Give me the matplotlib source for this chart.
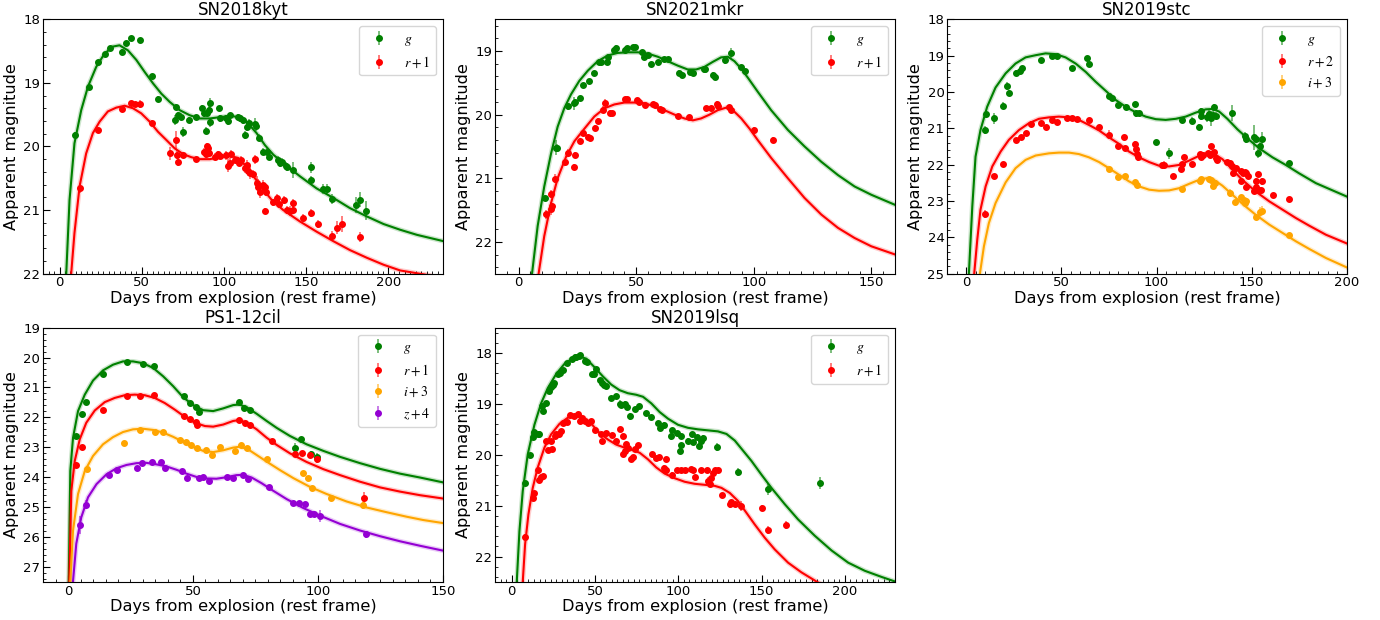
import matplotlib
matplotlib.use('Agg')
import matplotlib.pyplot as plt
from matplotlib.ticker import MultipleLocator
from matplotlib.colors import to_rgba

plt.rcParams['mathtext.fontset'] = 'stix'

# ---------------- SN2018kyt ----------------
kyt_g_t = [9.5, 17.7, 23.1, 27.6, 30.5, 37.8, 40.6, 43.5, 48.7, 56.2, 59.7, 70.7, 70.5, 72.1, 74.1, 74.9, 78.8, 82.9, 86.9, 87.7,
           89.0, 89.7, 90.6, 91.4, 91.4, 97.1, 97.5, 101.5, 102.2, 103.6, 108.6, 109.6, 111.7, 112.7, 113.7, 115.3, 118.8, 119.4, 121.4, 123.9,
           125.9, 127.2, 133.0, 134.0, 135.0, 137.7, 138.5, 141.7, 152.7, 152.7, 160.0, 162.8, 165.5, 180.3, 182.7, 186.4]
kyt_g_m = [19.82, 19.06, 18.67, 18.55, 18.46, 18.51, 18.37, 18.29, 18.33, 18.89, 19.25, 19.38, 19.58, 19.51, 19.53, 19.77, 19.58, 19.54, 19.40, 19.48,
           19.75, 19.48, 19.42, 19.32, 19.62, 19.40, 19.56, 19.56, 19.60, 19.51, 19.53, 19.56, 19.59, 19.82, 19.69, 19.63, 19.64, 19.68, 19.86, 20.08,
           20.08, 20.16, 20.21, 20.26, 20.24, 20.30, 20.32, 20.37, 20.33, 20.53, 20.67, 20.67, 20.83, 20.92, 20.84, 21.01]
kyt_g_e = [0.05, 0.04, 0.03, 0.03, 0.02, 0.04, 0.03, 0.02, 0.04, 0.03, 0.04, 0.05, 0.08, 0.05, 0.05, 0.08, 0.04, 0.03, 0.05, 0.05,
           0.06, 0.06, 0.05, 0.08, 0.07, 0.04, 0.05, 0.05, 0.06, 0.04, 0.04, 0.05, 0.06, 0.06, 0.06, 0.06, 0.08, 0.07, 0.05, 0.06,
           0.05, 0.05, 0.06, 0.06, 0.06, 0.06, 0.06, 0.12, 0.08, 0.06, 0.08, 0.08, 0.08, 0.12, 0.12, 0.15]
kyt_r_t = [12.2, 23.1, 37.8, 43.5, 45.7, 48.7, 56.0, 67.0, 70.7, 71.5, 72.3, 75.1, 83.2, 88.0, 89.0, 89.7, 90.4, 91.0, 94.4, 96.4,
           97.5, 101.5, 102.3, 103.6, 104.2, 106.6, 109.2, 110.1, 112.7, 113.7, 114.7, 116.1, 117.8, 118.8, 119.8, 120.8, 121.8, 123.9, 124.9, 125.5,
           125.1, 130.0, 132.4, 133.6, 136.4, 138.1, 140.1, 141.7, 142.1, 147.8, 152.7, 157.4, 165.5, 168.9, 172.0, 182.7]
kyt_r_m = [20.66, 19.74, 19.41, 19.32, 19.34, 19.33, 19.63, 20.11, 19.90, 20.13, 20.24, 20.13, 20.20, 20.08, 20.12, 20.00, 20.03, 20.10, 20.16, 20.12,
           20.15, 20.14, 20.30, 20.26, 20.12, 20.21, 20.26, 20.21, 20.34, 20.29, 20.39, 20.41, 20.43, 20.20, 20.57, 20.63, 20.71, 20.60, 20.63, 20.71,
           21.02, 20.88, 20.81, 20.90, 20.84, 21.00, 21.02, 21.00, 20.89, 21.13, 21.05, 21.22, 21.41, 21.28, 21.22, 21.42]
kyt_r_e = [0.08, 0.04, 0.03, 0.04, 0.04, 0.06, 0.04, 0.10, 0.15, 0.07, 0.06, 0.04, 0.04, 0.06, 0.06, 0.05, 0.05, 0.06, 0.05, 0.05,
           0.05, 0.07, 0.10, 0.08, 0.06, 0.05, 0.05, 0.06, 0.08, 0.08, 0.08, 0.10, 0.06, 0.07, 0.10, 0.12, 0.10, 0.07, 0.06, 0.07,
           0.05, 0.06, 0.06, 0.07, 0.06, 0.06, 0.08, 0.06, 0.06, 0.06, 0.06, 0.07, 0.08, 0.10, 0.12, 0.08]
kyt_gmod_t = [3.6, 4.1, 6.1, 9.1, 13.2, 17.3, 22.3, 27.4, 32.5, 36.5, 41.6, 46.7, 51.8, 56.9, 61.9, 67, 73.1, 79.2, 85.3, 91.4,
              97.5, 103.6, 109.6, 114.7, 119.8, 124.9, 130, 136, 146.2, 156.3, 166.5, 176.6, 186.8, 197, 207.1, 217.3, 233.5]
kyt_gmod_m = [22.6, 22.0, 20.84, 19.95, 19.43, 19.06, 18.75, 18.54, 18.43, 18.41, 18.49, 18.64, 18.83, 19.01, 19.17, 19.30, 19.43, 19.51, 19.56, 19.56,
              19.54, 19.52, 19.54, 19.64, 19.79, 19.98, 20.13, 20.26, 20.47, 20.66, 20.81, 20.97, 21.10, 21.22, 21.31, 21.39, 21.49]
kyt_rmod_t = [6.5, 7.1, 9.1, 12.2, 16.2, 20.3, 24.4, 29.4, 34.5, 39.6, 44.7, 49.7, 54.8, 59.9, 65, 70, 75.1, 80.2, 85.3, 91.4,
              97.5, 103.6, 108.6, 113.7, 118.8, 123.9, 129, 136, 146.2, 156.3, 166.5, 176.6, 186.8, 197, 207.1, 223.4, 233.5]
kyt_rmod_m = [22.6, 22.0, 21.36, 20.63, 20.11, 19.79, 19.61, 19.45, 19.39, 19.36, 19.40, 19.48, 19.61, 19.77, 19.90, 20.03, 20.12, 20.17, 20.20, 20.20,
              20.17, 20.15, 20.18, 20.32, 20.50, 20.68, 20.84, 21.00, 21.18, 21.34, 21.49, 21.63, 21.75, 21.86, 21.95, 22.02, 22.08]

# ---------------- SN2021mkr ----------------
mkr_g_t = [11.2, 15.9, 16.3, 20.9, 23.4, 24.0, 26.3, 27.2, 30.1, 31.9, 34.1, 35.1, 37.5, 38.2, 40.4, 41.4, 45.3, 46.1, 48.5, 49.5,
           52.4, 53.2, 55.2, 56.1, 59.2, 61.7, 63.4, 68.0, 69.4, 72.7, 74.1, 78.8, 79.3, 82.6, 83.6, 87.8, 90.4, 94.7, 96.1]
mkr_g_m = [21.31, 20.52, 20.52, 19.87, 19.82, 19.80, 19.74, 19.53, 19.47, 19.34, 19.18, 19.18, 19.18, 19.10, 18.99, 18.96, 18.98, 18.95, 18.94, 18.94,
           19.02, 19.10, 19.06, 19.20, 19.17, 19.12, 19.12, 19.34, 19.37, 19.33, 19.34, 19.29, 19.28, 19.37, 19.41, 19.14, 19.03, 19.25, 19.32]
mkr_g_e = [0.05, 0.12, 0.06, 0.05, 0.10, 0.04, 0.03, 0.03, 0.03, 0.03, 0.03, 0.03, 0.03, 0.03, 0.04, 0.05, 0.04, 0.03, 0.03, 0.03,
           0.03, 0.03, 0.03, 0.03, 0.03, 0.03, 0.03, 0.04, 0.03, 0.03, 0.04, 0.03, 0.03, 0.04, 0.04, 0.06, 0.08, 0.03, 0.04]
mkr_r_t = [11.6, 13.8, 13.8, 14.2, 15.5, 19.9, 21.0, 23.4, 24.0, 26.3, 27.2, 29.4, 30.4, 32.6, 33.6, 36.0, 36.7, 38.9, 39.7, 45.4,
           46.0, 50.2, 51.4, 53.8, 57.0, 57.8, 60.3, 60.9, 67.7, 72.4, 79.8, 81.9, 84.3, 85.0, 89.3, 90.4, 100.0, 108.4]
mkr_r_m = [21.57, 21.25, 21.48, 21.44, 21.01, 20.75, 20.60, 20.82, 20.63, 20.41, 20.29, 20.35, 20.36, 20.21, 20.10, 19.92, 19.81, 19.97, 19.98, 19.76,
           19.76, 19.77, 19.80, 19.85, 19.83, 19.85, 19.91, 19.93, 20.02, 20.04, 19.89, 19.89, 19.84, 19.87, 19.88, 19.93, 20.24, 20.40]
mkr_r_e = [0.07, 0.06, 0.10, 0.05, 0.07, 0.05, 0.06, 0.05, 0.05, 0.05, 0.04, 0.04, 0.04, 0.04, 0.04, 0.05, 0.06, 0.04, 0.04, 0.04,
           0.04, 0.03, 0.03, 0.03, 0.03, 0.04, 0.03, 0.03, 0.03, 0.03, 0.03, 0.03, 0.05, 0.03, 0.03, 0.04, 0.04, 0.05]
mkr_gmod_t = [5.0, 5.7, 8.1, 10.9, 13.8, 16.6, 19.4, 22.3, 25.8, 29.4, 33.6, 37.9, 42.1, 46.4, 50.7, 54.9, 59.2, 63.4, 67.7, 71.9,
              75.5, 79, 82.6, 86.1, 89, 91.8, 94.7, 97.5, 101.7, 107.4, 114.5, 121.6, 128.7, 135.8, 142.9, 150, 160.2]
mkr_gmod_m = [22.9, 22.5, 21.75, 21.13, 20.61, 20.19, 19.90, 19.68, 19.47, 19.31, 19.16, 19.07, 19.03, 19.02, 19.02, 19.04, 19.09, 19.16, 19.23, 19.29,
              19.29, 19.25, 19.17, 19.10, 19.09, 19.16, 19.28, 19.42, 19.64, 19.93, 20.24, 20.50, 20.74, 20.95, 21.13, 21.26, 21.42]
mkr_rmod_t = [7.8, 8.5, 10.9, 13.8, 16.6, 20.2, 23.7, 28, 32.2, 36.5, 40.7, 45, 49.2, 53.5, 57.8, 62, 66.3, 70.5, 74.1, 77.6,
              81.2, 84.7, 88.3, 91.1, 94.7, 98.2, 101.7, 107.4, 114.5, 121.6, 128.7, 135.8, 142.9, 150, 160.2]
mkr_rmod_m = [22.9, 22.5, 21.91, 21.39, 21.0, 20.66, 20.42, 20.22, 20.03, 19.90, 19.84, 19.81, 19.81, 19.82, 19.87, 19.93, 20.0, 20.06, 20.09, 20.06,
              20.0, 19.93, 19.89, 19.93, 20.06, 20.22, 20.40, 20.68, 21.0, 21.31, 21.57, 21.78, 21.94, 22.07, 22.20]

# ---------------- SN2019stc ----------------
stc_g_t = [9.8, 10.5, 14.4, 19.5, 21.4, 22.4, 25.9, 28.2, 29.4, 39.4, 44.9, 47.5, 55.4, 63.6, 64.5, 75.0, 76.7, 79.8, 84.1, 88.5,
           89.4, 90.8, 99.9, 106.6, 113.6, 118.8, 122.3, 123.2, 123.6, 126.7, 127.6, 128.5, 129.4, 130.2, 131.1, 139.4, 146.5, 147.2, 151.3, 152.1,
           153.5, 154.4, 155.3, 169.7]
stc_g_m = [21.05, 20.62, 20.73, 20.38, 19.84, 20.04, 19.47, 19.43, 19.34, 19.13, 19.02, 19.01, 19.34, 19.08, 19.22, 20.10, 20.18, 20.36, 20.41, 20.33,
           20.59, 20.59, 21.37, 21.69, 20.77, 20.79, 20.96, 20.53, 20.66, 20.70, 20.61, 20.73, 20.63, 20.42, 20.66, 20.59, 21.21, 21.30, 21.25, 21.30,
           21.69, 21.50, 21.30, 21.96]
stc_g_e = [0.12, 0.10, 0.15, 0.10, 0.10, 0.08, 0.08, 0.05, 0.05, 0.04, 0.04, 0.04, 0.06, 0.04, 0.05, 0.05, 0.06, 0.04, 0.08, 0.06,
           0.10, 0.05, 0.06, 0.15, 0.08, 0.10, 0.08, 0.10, 0.12, 0.12, 0.10, 0.20, 0.15, 0.10, 0.10, 0.22, 0.10, 0.10, 0.35, 0.10,
           0.12, 0.15, 0.20, 0.04]
stc_r_t = [9.8, 14.4, 19.5, 25.9, 28.6, 31.2, 34.0, 39.4, 42.0, 44.9, 47.5, 52.8, 55.7, 58.0, 64.5, 69.8, 75.0, 79.8, 82.9, 83.3,
           88.5, 89.0, 89.9, 90.4, 103.1, 103.9, 108.9, 112.7, 113.6, 114.5, 118.8, 122.9, 123.6, 124.6, 127.1, 128.0, 128.5, 129.4, 130.2, 131.1,
           132.0, 137.2, 138.5, 139.4, 140.2, 142.0, 144.6, 144.6, 145.5, 146.5, 147.2, 147.8, 147.2, 151.3, 152.1, 152.5, 153.5, 153.9, 154.8, 155.3,
           161.4, 169.7]
stc_r_m = [23.36, 22.31, 21.98, 21.32, 21.23, 21.14, 20.88, 20.85, 20.96, 20.77, 20.82, 20.71, 20.73, 20.74, 20.77, 20.97, 21.18, 21.48, 21.25, 21.53,
           21.44, 21.57, 21.71, 21.78, 22.01, 22.01, 22.31, 22.13, 21.99, 21.78, 21.99, 21.71, 21.78, 21.73, 21.69, 21.73, 21.49, 21.69, 21.64, 21.82,
           21.87, 21.92, 21.96, 22.03, 22.24, 22.10, 22.45, 22.17, 22.24, 22.19, 22.24, 22.31, 22.62, 22.74, 22.62, 22.46, 22.25, 22.69, 22.69, 22.46,
           22.83, 22.95]
stc_r_e = [0.10, 0.06, 0.06, 0.06, 0.05, 0.04, 0.04, 0.04, 0.04, 0.04, 0.04, 0.04, 0.05, 0.04, 0.05, 0.04, 0.12, 0.04, 0.04, 0.04,
           0.08, 0.06, 0.06, 0.12, 0.05, 0.10, 0.04, 0.08, 0.06, 0.05, 0.06, 0.05, 0.05, 0.05, 0.05, 0.05, 0.05, 0.06, 0.05, 0.05,
           0.05, 0.06, 0.10, 0.06, 0.10, 0.05, 0.06, 0.05, 0.05, 0.05, 0.06, 0.08, 0.06, 0.05, 0.06, 0.10, 0.06, 0.06, 0.06, 0.10,
           0.05, 0.05]
stc_i_t = [75.0, 79.8, 83.3, 88.5, 89.6, 113.6, 122.9, 123.6, 127.6, 128.5, 129.7, 130.8, 138.4, 141.3, 144.6, 146.0, 146.5, 147.2, 152.1, 154.2,
           155.3, 169.7]
stc_i_m = [22.13, 22.35, 22.31, 22.49, 22.57, 22.68, 22.45, 22.39, 22.39, 22.42, 22.60, 22.51, 22.78, 23.03, 22.89, 22.97, 23.06, 23.00, 23.43, 23.31,
           23.27, 23.95]
stc_i_e = [0.05, 0.05, 0.05, 0.06, 0.06, 0.06, 0.06, 0.05, 0.05, 0.05, 0.06, 0.05, 0.12, 0.05, 0.05, 0.05, 0.06, 0.05, 0.06, 0.15,
           0.12, 0.08]
stc_gmod_t = [1.0, 1.4, 3.2, 4.9, 7.5, 11, 15.4, 20.7, 25.9, 31.2, 36.5, 41.7, 47, 52.2, 57.5, 62.8, 68, 73.3, 78.5, 83.8,
              89, 94.3, 99.6, 104.8, 110.1, 115.3, 120.6, 125.9, 129.4, 132.9, 137.2, 142.5, 147.8, 153.9, 160.9, 167.9, 174.9, 183.7, 192.5, 200]
stc_gmod_m = [25.6, 25.0, 23.15, 21.78, 21.05, 20.41, 19.88, 19.49, 19.22, 19.05, 18.99, 18.94, 18.96, 19.05, 19.22, 19.45, 19.72, 19.97, 20.22, 20.41,
              20.56, 20.68, 20.75, 20.77, 20.74, 20.68, 20.57, 20.48, 20.47, 20.54, 20.74, 21.03, 21.28, 21.55, 21.80, 22.01, 22.24, 22.51, 22.71, 22.88]
stc_rmod_t = [3.7, 4.2, 5.8, 7.5, 10.2, 13.7, 18.1, 22.4, 27.7, 33, 38.2, 43.5, 48.7, 54, 59.2, 64.5, 69.8, 75, 80.3, 85.5,
              90.8, 96.1, 101.3, 106.6, 111.8, 117.1, 122.3, 126.7, 130.2, 134.6, 139.9, 145.1, 152.1, 159.2, 166.2, 173.2, 180.2, 189, 200]
stc_rmod_m = [25.6, 25.0, 24.07, 23.24, 22.60, 22.05, 21.64, 21.32, 21.05, 20.86, 20.74, 20.70, 20.68, 20.70, 20.77, 20.91, 21.06, 21.25, 21.43, 21.64,
              21.80, 21.93, 22.03, 22.05, 22.01, 21.89, 21.76, 21.69, 21.71, 21.85, 22.14, 22.42, 22.74, 23.01, 23.24, 23.47, 23.68, 23.93, 24.17]
stc_imod_t = [6.6, 7.2, 9.3, 11.9, 15.4, 20.7, 25.9, 31.2, 36.5, 43.5, 48.7, 54, 59.2, 64.5, 69.8, 75, 80.3, 85.5, 90.8, 96.1,
              101.3, 106.6, 111.8, 117.1, 122.3, 126.7, 130.2, 134.6, 139.9, 145.1, 152.1, 159.2, 166.2, 173.2, 180.2, 189, 200]
stc_imod_m = [25.6, 25.0, 24.25, 23.61, 23.06, 22.49, 22.10, 21.87, 21.75, 21.69, 21.67, 21.67, 21.71, 21.80, 21.93, 22.10, 22.28, 22.46, 22.60, 22.69,
              22.72, 22.71, 22.65, 22.53, 22.42, 22.37, 22.42, 22.58, 22.83, 23.08, 23.38, 23.65, 23.88, 24.11, 24.32, 24.57, 24.83]

# ---------------- PS1-12cil ----------------
cil_g_t = [3.3, 5.7, 7.3, 14.0, 23.8, 30.1, 34.5, 46.5, 48.8, 51.2, 52.5, 68.5, 70.5, 72.8, 90.8, 93.2, 97.1, 99.5]
cil_g_m = [22.62, 21.88, 21.48, 20.54, 20.15, 20.22, 20.30, 21.29, 21.52, 21.65, 21.81, 21.49, 21.68, 21.74, 23.01, 22.73, 23.23, 23.32]
cil_g_e = [0.06, 0.05, 0.05, 0.04, 0.04, 0.04, 0.04, 0.05, 0.05, 0.05, 0.05, 0.05, 0.05, 0.05, 0.15, 0.08, 0.12, 0.12]
cil_r_t = [3.3, 5.7, 14.0, 23.8, 29.0, 34.5, 46.5, 48.8, 51.2, 51.7, 68.5, 70.8, 72.8, 81.5, 90.8, 93.5, 96.8, 99.5, 118.5]
cil_r_m = [23.60, 22.98, 21.74, 21.27, 21.27, 21.26, 21.94, 22.04, 22.16, 22.24, 22.10, 22.18, 22.26, 22.79, 23.21, 23.18, 23.27, 23.40, 24.70]
cil_r_e = [0.10, 0.06, 0.05, 0.04, 0.04, 0.04, 0.04, 0.05, 0.05, 0.05, 0.04, 0.05, 0.05, 0.08, 0.08, 0.05, 0.06, 0.12, 0.20]
cil_i_t = [7.7, 22.3, 29.0, 35.0, 38.1, 44.7, 47.1, 49.4, 51.7, 55.4, 57.7, 60.8, 66.8, 69.2, 71.5, 79.5, 94.2, 96.2, 97.8, 105.2, 118.2]
cil_i_m = [23.71, 22.87, 22.42, 22.48, 22.48, 22.76, 22.82, 22.93, 23.01, 23.10, 23.27, 22.98, 23.12, 22.93, 23.01, 23.40, 23.86, 24.04, 24.36, 24.70, 24.93]
cil_i_e = [0.10, 0.07, 0.05, 0.05, 0.05, 0.05, 0.05, 0.05, 0.05, 0.05, 0.05, 0.05, 0.05, 0.05, 0.05, 0.05, 0.06, 0.06, 0.08, 0.10, 0.12]
cil_z_t = [4.9, 7.3, 16.4, 19.4, 27.6, 29.8, 33.8, 37.4, 39.0, 45.7, 47.8, 52.5, 54.1, 56.4, 63.8, 66.1, 69.9, 72.1, 80.5, 90.2,
           92.4, 94.8, 96.8, 98.4, 100.8, 119.1]
cil_z_m = [25.58, 24.92, 23.92, 23.75, 23.68, 23.53, 23.49, 23.48, 23.68, 23.79, 24.01, 24.04, 23.99, 24.12, 23.99, 24.01, 23.93, 24.06, 24.31, 24.86,
           24.86, 24.89, 25.23, 25.23, 25.30, 25.91]
cil_z_e = [0.30, 0.15, 0.06, 0.06, 0.06, 0.06, 0.05, 0.05, 0.06, 0.06, 0.06, 0.06, 0.06, 0.06, 0.06, 0.06, 0.06, 0.06, 0.06, 0.06,
           0.06, 0.06, 0.06, 0.10, 0.20, 0.12]
cil_gmod_t = [0.1, 0.3, 0.9, 2, 4, 6.7, 10, 14, 18, 22, 26, 30, 34.1, 38.1, 42.1, 46.1, 50.1, 54.1, 58.1, 62.1,
              66.1, 68.5, 71.5, 75.5, 79.5, 83.5, 88.8, 95.5, 102.2, 108.9, 116.9, 124.9, 132.9, 140.9, 150]
cil_gmod_m = [28.0, 27.47, 23.79, 22.68, 21.79, 21.24, 20.77, 20.43, 20.24, 20.13, 20.13, 20.19, 20.35, 20.63, 20.96, 21.33, 21.59, 21.76, 21.79, 21.70,
              21.59, 21.57, 21.66, 21.88, 22.12, 22.35, 22.62, 22.90, 23.12, 23.32, 23.53, 23.72, 23.88, 24.01, 24.17]
cil_rmod_t = [0.3, 0.5, 1.3, 2.7, 4.7, 7.3, 10.7, 14.7, 18.7, 22.7, 26.7, 30.7, 34.7, 38.7, 42.7, 46.7, 50.8, 54.8, 58.1, 62.1,
              66.1, 68.5, 71.5, 75.5, 79.5, 83.5, 88.8, 95.5, 102.2, 108.9, 116.9, 124.9, 132.9, 140.9, 150]
cil_rmod_m = [28.0, 27.47, 24.46, 23.45, 22.73, 22.18, 21.77, 21.49, 21.35, 21.26, 21.24, 21.26, 21.35, 21.52, 21.74, 21.98, 22.18, 22.29, 22.31, 22.24,
              22.12, 22.09, 22.18, 22.40, 22.68, 22.92, 23.20, 23.49, 23.73, 23.93, 24.15, 24.34, 24.48, 24.60, 24.71]
cil_imod_t = [0.7, 0.9, 2, 4, 6.7, 10, 14, 18, 22, 26, 30, 34.1, 38.1, 42.1, 46.1, 50.1, 54.1, 58.1, 62.1, 66.1,
              68.8, 72.1, 76.1, 80.1, 84.8, 90.2, 96.8, 103.5, 111.5, 119.5, 127.6, 135.6, 142.2, 150]
cil_imod_m = [28.0, 27.47, 25.78, 24.56, 23.79, 23.29, 22.90, 22.66, 22.49, 22.40, 22.38, 22.42, 22.51, 22.65, 22.82, 22.99, 23.12, 23.16, 23.10, 23.01,
              22.98, 23.07, 23.29, 23.51, 23.76, 24.03, 24.32, 24.56, 24.81, 25.01, 25.17, 25.32, 25.43, 25.53]
cil_zmod_t = [1.8, 2, 3.3, 5.3, 8, 11.4, 15.4, 19.4, 23.4, 27.4, 31.4, 35.4, 39.4, 43.4, 47.4, 51.4, 55.4, 59.4, 63.4, 67.4,
              70.1, 73.5, 77.5, 82.1, 87.5, 94.2, 100.8, 108.9, 116.9, 124.9, 132.9, 140.9, 150]
cil_zmod_m = [28.0, 27.47, 26.22, 25.34, 24.67, 24.23, 23.90, 23.70, 23.59, 23.53, 23.52, 23.57, 23.64, 23.75, 23.88, 23.99, 24.04, 24.05, 24.0, 23.93,
              23.92, 24.01, 24.20, 24.45, 24.73, 25.03, 25.28, 25.56, 25.78, 25.97, 26.14, 26.29, 26.45]

# ---------------- SN2019lsq ----------------
lsq_g_t = [8.0, 10.8, 12.6, 13.6, 16.0, 16.6, 18.0, 18.6, 20.6, 22.2, 23.6, 24.6, 25.3, 27.7, 29.1, 30.7, 33.3, 36.1, 37.7, 38.7,
           40.1, 41.1, 43.7, 45.3, 48.1, 49.3, 50.7, 52.7, 54.1, 55.3, 56.7, 59.7, 62.3, 64.7, 65.7, 67.7, 69.3, 70.7, 73.7, 76.4,
           80.8, 83.8, 87.8, 88.8, 91.4, 95.4, 96.2, 99.4, 100.8, 101.8, 101.8, 105.8, 108.2, 108.8, 111.2, 112.2, 113.8, 114.8, 123.2, 135.9,
           153.9, 185.0]
lsq_g_m = [20.55, 20.01, 19.65, 19.56, 19.60, 19.59, 19.05, 19.13, 18.99, 18.74, 18.67, 18.62, 18.58, 18.41, 18.39, 18.33, 18.20, 18.11, 18.08, 18.07,
           18.05, 18.03, 18.15, 18.18, 18.42, 18.41, 18.31, 18.54, 18.59, 18.62, 18.65, 18.88, 18.84, 19.00, 19.03, 19.00, 19.07, 19.24, 19.11, 19.05,
           19.18, 19.26, 19.37, 19.47, 19.41, 19.63, 19.52, 19.57, 19.92, 19.81, 19.63, 19.72, 19.60, 19.75, 19.65, 19.82, 19.73, 19.67, 19.84, 20.34,
           20.67, 20.55]
lsq_g_e = [0.04, 0.03, 0.03, 0.05, 0.05, 0.04, 0.04, 0.04, 0.03, 0.03, 0.03, 0.03, 0.03, 0.03, 0.03, 0.03, 0.03, 0.03, 0.03, 0.03,
           0.03, 0.03, 0.03, 0.03, 0.03, 0.03, 0.03, 0.03, 0.03, 0.03, 0.03, 0.03, 0.03, 0.08, 0.04, 0.05, 0.04, 0.07, 0.04, 0.04,
           0.03, 0.03, 0.04, 0.04, 0.05, 0.08, 0.05, 0.04, 0.05, 0.05, 0.04, 0.05, 0.04, 0.05, 0.04, 0.05, 0.04, 0.05, 0.08, 0.08,
           0.12, 0.12]
lsq_r_t = [8.2, 12.6, 13.6, 15.6, 16.2, 17.6, 18.6, 20.6, 22.0, 23.6, 24.4, 25.7, 26.7, 28.1, 29.3, 30.7, 33.3, 35.1, 37.3, 39.7,
           40.7, 42.3, 44.1, 45.7, 47.7, 49.7, 53.3, 54.3, 56.7, 60.3, 62.3, 64.7, 66.7, 66.7, 67.7, 68.3, 69.7, 71.7, 72.7, 73.7,
           75.8, 84.2, 86.8, 88.4, 91.4, 92.4, 92.8, 96.2, 99.4, 101.8, 104.2, 107.8, 108.8, 110.2, 113.8, 117.2, 117.8, 118.8, 119.8, 120.8,
           121.8, 123.8, 126.5, 130.9, 131.9, 133.9, 137.9, 150.3, 153.9, 164.5]
lsq_r_m = [21.61, 20.84, 20.76, 20.30, 20.50, 20.44, 20.42, 19.73, 19.90, 19.73, 19.88, 19.63, 19.60, 19.59, 19.54, 19.37, 19.35, 19.22, 19.23, 19.19,
           19.33, 19.27, 19.34, 19.37, 19.33, 19.52, 19.60, 19.73, 19.57, 19.62, 19.73, 19.49, 19.63, 19.98, 19.92, 19.78, 19.86, 20.09, 20.05, 19.88,
           19.80, 19.98, 20.06, 20.05, 20.25, 20.09, 20.29, 20.39, 20.30, 20.30, 20.29, 20.27, 20.30, 20.44, 20.30, 20.30, 20.52, 20.57, 20.46, 20.35,
           20.29, 20.30, 20.79, 20.97, 20.93, 20.97, 21.00, 21.04, 21.48, 21.38]
lsq_r_e = [0.06, 0.05, 0.05, 0.05, 0.05, 0.05, 0.05, 0.04, 0.04, 0.04, 0.04, 0.04, 0.04, 0.04, 0.04, 0.04, 0.03, 0.03, 0.03, 0.03,
           0.03, 0.03, 0.03, 0.03, 0.03, 0.03, 0.03, 0.03, 0.03, 0.03, 0.03, 0.03, 0.04, 0.04, 0.04, 0.04, 0.04, 0.06, 0.05, 0.04,
           0.04, 0.03, 0.03, 0.03, 0.04, 0.04, 0.06, 0.05, 0.03, 0.03, 0.03, 0.03, 0.03, 0.04, 0.03, 0.03, 0.08, 0.04, 0.04, 0.04,
           0.03, 0.05, 0.04, 0.07, 0.05, 0.05, 0.10, 0.06, 0.08, 0.08]
lsq_gmod_t = [2.5, 3, 4.6, 6.6, 9.6, 13.6, 17.6, 21.6, 26.7, 31.7, 36.7, 40.7, 44.7, 49.7, 54.7, 59.7, 64.7, 69.7, 74.7, 78.8,
              83.8, 88.8, 93.8, 99.8, 105.8, 111.8, 117.8, 123.8, 128.9, 133.9, 138.9, 143.9, 149.9, 155.9, 163.9, 171.9, 181.9, 192, 202, 212,
              222, 231]
lsq_gmod_m = [23.0, 22.49, 21.50, 20.71, 19.99, 19.41, 18.99, 18.69, 18.41, 18.21, 18.10, 18.07, 18.11, 18.28, 18.46, 18.62, 18.73, 18.79, 18.82, 18.86,
              18.99, 19.16, 19.29, 19.41, 19.47, 19.50, 19.52, 19.54, 19.59, 19.72, 19.92, 20.12, 20.39, 20.65, 20.97, 21.27, 21.59, 21.88, 22.12, 22.28,
              22.40, 22.50]
lsq_rmod_t = [6.0, 6.6, 8, 10, 12.6, 15.6, 19.6, 23.6, 28.7, 33.7, 38.7, 42.7, 47.7, 52.7, 57.7, 62.7, 67.7, 72.7, 76.8, 81.8,
              86.8, 91.8, 97.8, 103.8, 109.8, 115.8, 121.8, 125.9, 130.9, 135.9, 140.9, 145.9, 151.9, 157.9, 165.9, 173.9, 182.9, 190]
lsq_rmod_m = [23.0, 22.49, 21.76, 21.17, 20.65, 20.25, 19.86, 19.60, 19.39, 19.27, 19.24, 19.26, 19.39, 19.57, 19.70, 19.80, 19.86, 19.91, 19.96, 20.09,
              20.25, 20.37, 20.46, 20.53, 20.57, 20.59, 20.61, 20.65, 20.75, 20.91, 21.14, 21.37, 21.63, 21.86, 22.12, 22.31, 22.49, 22.62]

# band colours
c_g, c_r, c_i, c_z = 'green', 'red', 'orange', 'darkviolet'


def draw(ax, title, bands, xlim, ylim, xminor):
    for lab, col, t, m, e, mt, mm in bands:
        ax.plot(mt, mm, color=col, lw=3.5, alpha=0.2, zorder=1)
        ax.plot(mt, mm, color=col, lw=1.5, zorder=2)
        ax.errorbar(t, m, yerr=e, fmt='o', ms=4, color=col, ecolor=to_rgba(col, 0.6),
                    elinewidth=1.2, capsize=0, label=lab, zorder=3)
    ax.set_xlim(xlim)
    ax.set_ylim(ylim)
    ax.xaxis.set_major_locator(MultipleLocator(50))
    ax.xaxis.set_minor_locator(MultipleLocator(xminor))
    ax.yaxis.set_major_locator(MultipleLocator(1))
    ax.yaxis.set_minor_locator(MultipleLocator(0.2))
    ax.tick_params(which='both', direction='in', labelsize=9.5, pad=2)
    ax.tick_params(which='major', length=5)
    ax.tick_params(which='minor', length=2.5)
    ax.set_title(title, fontsize=12, pad=3)
    ax.set_xlabel('Days from explosion (rest frame)', fontsize=11.6, labelpad=1)
    ax.set_ylabel('Apparent magnitude', fontsize=11.6, labelpad=3)
    ax.legend(loc='upper right', fontsize=10)


fig, axes = plt.subplots(2, 3, figsize=(13.8, 6.2), dpi=100)
fig.subplots_adjust(left=0.0312, right=0.976, bottom=0.0613, top=0.969, wspace=0.131, hspace=0.212)

draw(axes[0, 0], 'SN2018kyt',
     [(r'$g$', c_g, kyt_g_t, kyt_g_m, kyt_g_e, kyt_gmod_t, kyt_gmod_m),
      (r'$r+1$', c_r, kyt_r_t, kyt_r_m, kyt_r_e, kyt_rmod_t, kyt_rmod_m)],
     (-10, 233), (22, 18), 10 / 3)
draw(axes[0, 1], 'SN2021mkr',
     [(r'$g$', c_g, mkr_g_t, mkr_g_m, mkr_g_e, mkr_gmod_t, mkr_gmod_m),
      (r'$r+1$', c_r, mkr_r_t, mkr_r_m, mkr_r_e, mkr_rmod_t, mkr_rmod_m)],
     (-10, 160), (22.5, 18.5), 5)
draw(axes[0, 2], 'SN2019stc',
     [(r'$g$', c_g, stc_g_t, stc_g_m, stc_g_e, stc_gmod_t, stc_gmod_m),
      (r'$r+2$', c_r, stc_r_t, stc_r_m, stc_r_e, stc_rmod_t, stc_rmod_m),
      (r'$i+3$', c_i, stc_i_t, stc_i_m, stc_i_e, stc_imod_t, stc_imod_m)],
     (-10, 200), (25, 18), 5)
draw(axes[1, 0], 'PS1-12cil',
     [(r'$g$', c_g, cil_g_t, cil_g_m, cil_g_e, cil_gmod_t, cil_gmod_m),
      (r'$r+1$', c_r, cil_r_t, cil_r_m, cil_r_e, cil_rmod_t, cil_rmod_m),
      (r'$i+3$', c_i, cil_i_t, cil_i_m, cil_i_e, cil_imod_t, cil_imod_m),
      (r'$z+4$', c_z, cil_z_t, cil_z_m, cil_z_e, cil_zmod_t, cil_zmod_m)],
     (-10, 150), (27.5, 19), 5)
draw(axes[1, 1], 'SN2019lsq',
     [(r'$g$', c_g, lsq_g_t, lsq_g_m, lsq_g_e, lsq_gmod_t, lsq_gmod_m),
      (r'$r+1$', c_r, lsq_r_t, lsq_r_m, lsq_r_e, lsq_rmod_t, lsq_rmod_m)],
     (-10, 230), (22.5, 17.5), 10 / 3)
axes[1, 2].remove()

fig.savefig('out.png', dpi=100)
